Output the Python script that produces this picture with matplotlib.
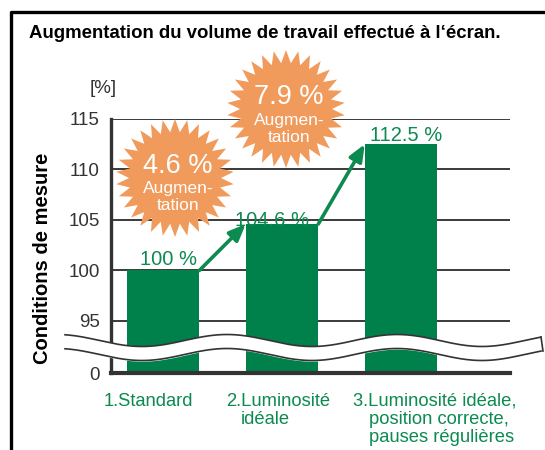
import numpy as np
import matplotlib.pyplot as plt

plt.rcParams['font.family'] = ['Liberation Sans', 'DejaVu Sans']

# données
categories = ['1.Standard', '2.Luminosité\nidéale', '3.Luminosité idéale,\nposition correcte,\npauses régulières']
values = [100, 104.6, 112.5]
value_labels = ['100 %', '104.6 %', '112.5 %']
increases = ['4.6 %', '7.9 %']
yticks = [95, 100, 105, 110, 115]

green = '#00804a'
txt_green = '#0c8a50'
orange = '#f09a5c'
grey = '#333333'

fig = plt.figure(figsize=(5.45, 4.5), dpi=100)
W, H = 545, 450

# axe principal (échelle coupée : le bas de l'axe représente 0)
base = 89.85
ax = fig.add_axes([111 / W, 1 - 373 / H, (510 - 111) / W, (373 - 119) / H])
x = np.arange(len(values))
ax.bar(x, values, width=0.61, color=green, zorder=2)
ax.set_xlim(-0.437, 2.916)
ax.set_ylim(base, 115)
ax.set_yticks([base] + yticks)
ax.set_yticklabels(['0'] + [str(t) for t in yticks], fontsize=13.5, color=grey)
ax.tick_params(axis='y', length=0, pad=8)
ax.set_xticks([])
for t in yticks:
    ax.axhline(t, color='#3a3a3a', lw=1.4, zorder=1)
for s in ['top', 'right']:
    ax.spines[s].set_visible(False)
ax.spines['left'].set_color(grey)
ax.spines['left'].set_linewidth(2.4)
ax.spines['bottom'].set_color(grey)
ax.spines['bottom'].set_linewidth(3)
ax.spines['left'].set_zorder(3)

# étiquettes de valeur
offsets = [(0.05, 1.05), (-0.08, 0.35), (0.04, 0.9)]
for i, (v, lab) in enumerate(zip(values, value_labels)):
    dx, dy = offsets[i]
    ax.text(x[i] + dx, v + dy, lab, ha='center', va='center', fontsize=14.5,
            color=txt_green, clip_on=False, zorder=4)

# flèches entre les barres
half = 0.305
for i in range(len(values) - 1):
    ax.annotate('', xy=(x[i + 1] - half, values[i + 1]), xytext=(x[i] + half, values[i]),
                arrowprops=dict(arrowstyle='-|>,head_length=1.0,head_width=0.42',
                                color=txt_green, lw=2.6, shrinkA=0, shrinkB=0),
                annotation_clip=False, zorder=5)

ax.text(-0.5, 117.2, '[%]', fontsize=13.5, color=grey, ha='center', va='bottom', clip_on=False,
        transform=ax.transData)

# calque de décoration en pixels
ov = fig.add_axes([0, 0, 1, 1], zorder=10)
ov.set_xlim(0, W)
ov.set_ylim(H, 0)
ov.axis('off')

# cadre
ov.plot([11, 11, W + 5], [H + 5, 12, 12], color='black', lw=2.4, clip_on=False)

ov.text(29, 34, 'Augmentation du volume de travail effectué à l\u2018écran.',
        fontsize=13.4, fontweight='bold', ha='left', va='center')

ov.text(43, 258, 'Conditions de mesure', rotation=90, fontsize=14.5, fontweight='bold',
        ha='center', va='center')

# coupure ondulée
xs = np.linspace(65, 541, 300)
top = 340.5 - 6 * np.cos(2 * np.pi * (xs - 227) / 170)
bot = top + 14
ov.fill_between(xs, top, bot, color='white', zorder=2)
ov.plot(xs, top, color=grey, lw=1.2, zorder=3)
ov.plot(xs, bot, color=grey, lw=1.2, zorder=3)
ov.plot([xs[-1], xs[-1] + 2], [top[-1], bot[-1]], color=grey, lw=1.2, zorder=3)

# étoiles
def star(cx, cy, r_out, r_in, n=30):
    ang = np.linspace(0, 2 * np.pi, 2 * n, endpoint=False) - np.pi / 2
    r = np.where(np.arange(2 * n) % 2 == 0, r_out, r_in)
    return cx + r * np.cos(ang), cy + r * np.sin(ang)

stars = [(175, 178), (286, 109)]
for (cx, cy), pct in zip(stars, increases):
    sx, sy = star(cx, cy, 59, 46)
    ov.fill(sx, sy, color=orange, zorder=4, lw=0)
    ov.text(cx + 3, cy - 12, pct, fontsize=19.5, color='white', ha='center', va='center', zorder=5)
    ov.text(cx + 3, cy + 11, 'Augmen-', fontsize=12.5, color='white', ha='center', va='center', zorder=5)
    ov.text(cx + 3, cy + 28, 'tation', fontsize=12.5, color='white', ha='center', va='center', zorder=5)

# étiquettes des catégories (alinéa suspendu)
label_x = [104, 226, 353]
indent_x = [None, 241, 369]
for i, cat in enumerate(categories):
    lines = cat.split('\n')
    for j, line in enumerate(lines):
        xx = label_x[i] if j == 0 else indent_x[i]
        ov.text(xx, 401 + 18.5 * j, line, fontsize=13.2, color=txt_green, ha='left', va='center')

plt.savefig('out.png', dpi=100)
